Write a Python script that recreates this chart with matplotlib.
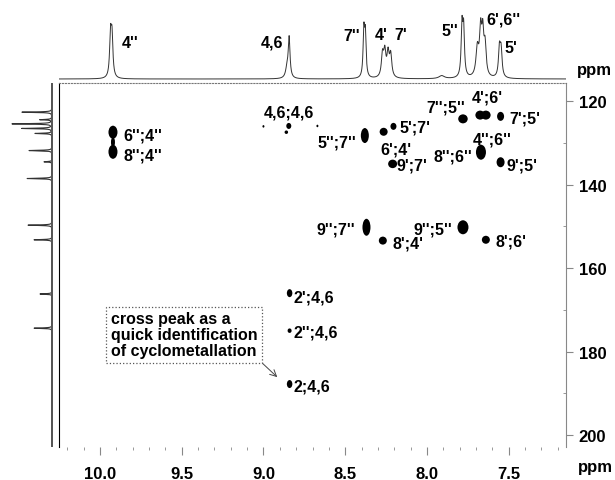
import numpy as np
import matplotlib.pyplot as plt
from matplotlib.patches import Ellipse
from matplotlib.ticker import MultipleLocator

plt.rcParams['font.family'] = ['Liberation Sans', 'DejaVu Sans']
plt.rcParams['font.weight'] = 'bold'

# 1H projection (top): peak centre ppm, height (px), width (ppm)
h_center = [9.935, 9.926, 8.856, 8.843, 8.386, 8.377, 8.272, 8.258, 8.238, 8.222,
            7.91, 7.786, 7.776, 7.692, 7.672, 7.659, 7.645, 7.557, 7.547]
h_height = [41, 39, 9, 40, 45, 41, 22, 24, 23, 22,
            3, 50, 46, 28, 44, 38, 30, 28, 26]
h_width = [0.013, 0.013, 0.02, 0.013, 0.011, 0.011, 0.016, 0.016, 0.016, 0.016,
           0.04, 0.012, 0.012, 0.02, 0.016, 0.014, 0.016, 0.014, 0.014]

# 13C projection (left)
c_center = [122.6, 124.4, 125.4, 126.5, 127.7, 131.8, 134.5, 138.5,
            149.7, 153.2, 166.2, 174.4]
c_height = [30, 12, 40, 30, 17, 23, 8, 25, 24, 18, 12, 18]

# cross peaks: 1H ppm, 13C ppm, size in px
xp_h = [9.920, 9.920, 9.920, 9.000, 8.845, 8.860, 8.670, 8.380, 8.265, 8.205,
        7.780, 7.675, 7.640, 7.550, 7.670, 7.550, 8.210, 8.370, 8.270, 7.780,
        7.640, 8.840, 8.840, 8.840]
xp_c = [127.4, 132.1, 129.8, 126.0, 125.9, 127.4, 125.9, 128.2, 127.3, 126.0,
        124.2, 123.3, 123.3, 123.6, 132.2, 134.6, 135.0, 150.2, 153.4, 150.2,
        153.2, 166.0, 175.0, 187.8]
xp_w = [9, 9, 4, 2, 5, 3.5, 2, 8, 8, 6, 9.5, 9.5, 9.5, 7, 10, 8, 9, 8, 8, 11, 8, 5.5, 4, 5.5]
xp_hh = [13, 14, 10, 2.5, 6, 3.5, 2.5, 15, 8, 7, 9, 9, 9, 9, 15, 10, 8.5, 17, 8, 14, 8, 8, 4.5, 8]

# assignments
lab_text = ["4,6;4,6", "5'';7''", "5';7'", "6';4'", "9';7'", "8'';6''", "4'';6''",
            "9';5'", "7'';5''", "4';6'", "7';5'", "6'';4''", "8'';4''", "9'';7''",
            "8';4'", "9'';5''", "8';6'", "2';4,6", "2'';4,6", "2;4,6"]
lab_x = [8.997, 8.671, 8.169, 8.287, 8.185, 7.963, 7.719, 7.513, 8.002, 7.725,
         7.498, 9.857, 9.857, 8.675, 8.210, 8.084, 7.584, 8.818, 8.818, 8.818]
lab_y = [122.6, 129.7, 126.2, 131.4, 135.3, 133.2, 129.0, 135.3, 121.4, 119.0,
         124.1, 128.1, 132.9, 150.6, 154.0, 150.5, 153.4, 167.0, 175.4, 188.2]

top_text = ["4''", "4,6", "7''", "4'", "7'", "5''", "6',6''", "5'"]
top_x = [9.867, 8.881, 8.514, 8.318, 8.200, 7.911, 7.635, 7.529]
top_y = [36.7, 37.3, 43.3, 45, 45, 48.3, 60, 31.7]
top_ha = ['left', 'right', 'left', 'left', 'left', 'left', 'left', 'left']

xlim = (10.25, 7.15)
ylim = (202.9, 115.6)
W, H = 615, 481

fig = plt.figure(figsize=(6.15, 4.81), dpi=100)
ax = fig.add_axes([59 / W, 1 - 448 / H, 507 / W, 364 / H])
ax_top = fig.add_axes([59 / W, 1 - 84 / H, 507 / W, 80 / H])
ax_left = fig.add_axes([0, 1 - 448 / H, 59 / W, 364 / H])

# 2D cross peaks
for x, y, w, hh in zip(xp_h, xp_c, xp_w, xp_hh):
    ax.add_patch(Ellipse((x, y), w / 163.5, hh / 4.17, color='black', lw=0))

for t, x, y in zip(lab_text, lab_x, lab_y):
    ax.text(x, y, t, fontsize=11.5, ha='left', va='center')

ax.annotate("cross peak as a\nquick identification\nof cyclometallation",
            xy=(8.903, 186.6), xytext=(9.935, 176.0), fontsize=11.5,
            ha='left', va='center', linespacing=1.08,
            bbox=dict(boxstyle='square,pad=0.3', fc='white', ec='#555555', ls=':', lw=0.9),
            arrowprops=dict(arrowstyle='->', color='#444444', lw=0.7,
                            relpos=(1, 0), shrinkA=0, shrinkB=2))

ax.set_xlim(xlim)
ax.set_ylim(ylim)
ax.spines['bottom'].set_visible(False)
ax.spines['left'].set_color('black')
ax.spines['top'].set_linestyle(':')
ax.spines['top'].set_color('#777777')
ax.spines['right'].set_color('#888888')
ax.yaxis.tick_right()
ax.xaxis.set_major_locator(MultipleLocator(0.5))
ax.xaxis.set_minor_locator(MultipleLocator(0.1))
ax.yaxis.set_major_locator(MultipleLocator(20))
ax.yaxis.set_minor_locator(MultipleLocator(10))
ax.tick_params(axis='x', which='major', length=6, color='#888888', labelsize=12, pad=8)
ax.tick_params(axis='x', which='minor', length=2, color='#888888')
ax.tick_params(axis='y', which='major', length=5, color='#888888', labelsize=12, pad=4)
ax.tick_params(axis='y', which='minor', length=2, direction='in', color='#888888')
ax.xaxis.set_major_formatter(plt.FormatStrFormatter('%.1f'))
ax.yaxis.set_major_formatter(plt.FormatStrFormatter('%d'))

# 1H projection
xh = np.linspace(xlim[0], xlim[1], 5000)
spec = np.zeros_like(xh)
for c, h, w in zip(h_center, h_height, h_width):
    spec += h / (1 + ((xh - c) / (w / 2)) ** 2)
ax_top.plot(xh, spec, color='#333333', lw=0.7)
for t, x, y, ha in zip(top_text, top_x, top_y, top_ha):
    ax_top.text(x, y, t, fontsize=11.5, ha=ha, va='center')
ax_top.set_xlim(xlim)
ax_top.set_ylim(-4, 76)
ax_top.axis('off')

# 13C projection
yc = np.linspace(ylim[1], ylim[0], 6000)
cspec = np.zeros_like(yc)
for c, h in zip(c_center, c_height):
    cspec += h / (1 + ((yc - c) / 0.08) ** 2)
ax_left.plot(cspec, yc, color='#333333', lw=0.8)
ax_left.plot(np.zeros_like(yc), yc, color='#555555', lw=1.4)
ax_left.set_xlim(52, -7)
ax_left.set_ylim(ylim)
ax_left.axis('off')

fig.text(577 / W, 1 - 70 / H, "ppm", fontsize=12, ha='left', va='center')
fig.text(578 / W, 1 - 468 / H, "ppm", fontsize=12, ha='left', va='center')

fig.savefig("out.png", dpi=100)
